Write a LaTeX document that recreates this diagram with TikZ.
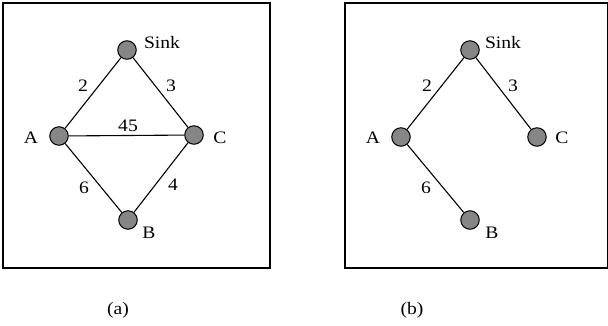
\documentclass[tikz,border=0pt]{standalone}
\usepackage{fontspec}
\setmainfont{Liberation Serif}
\begin{document}
\begin{tikzpicture}[x=1pt,y=-1pt,
  vtx/.style={circle,draw=black,fill=gray!95,line width=1pt,minimum size=18.5pt,inner sep=0pt},
  lbl/.style={inner sep=0pt,xscale=1.12,font=\fontsize{17.5}{20}\selectfont},
  edge/.style={line width=1.1pt},
  frame/.style={draw=black,line width=1.1pt}]
\useasboundingbox (0,0) rectangle (608,325);
% panel (a)
\draw[frame] (3,3) rectangle (270,268);
\node[vtx] (aS) at (127,50) {};
\node[vtx] (aA) at (59,136) {};
\node[vtx] (aC) at (194,135) {};
\node[vtx] (aB) at (128,220) {};
\draw[edge] (aA) -- (aS);
\draw[edge] (aS) -- (aC);
\draw[edge] (aA) -- (aC);
\draw[edge] (aA) -- (aB);
\draw[edge] (aB) -- (aC);
\node[lbl] (taS) at (162,43) {Sink};
\node[lbl] (taA) at (31,138) {A};
\node[lbl] (taC) at (220,138) {C};
\node[lbl] (taB) at (149,233) {B};
\node[lbl] (w1) at (83,86) {2};
\node[lbl] (w2) at (171,86) {3};
\node[lbl] (w3) at (128,126) {45};
\node[lbl] (w4) at (84,188) {6};
\node[lbl] (w5) at (173,185) {4};
\node[lbl] (capa) at (118,310) {(a)};
% panel (b)
\draw[frame] (345,3) rectangle (607.4,268);
\node[vtx] (bS) at (470,50) {};
\node[vtx] (bA) at (401,137) {};
\node[vtx] (bC) at (537,137) {};
\node[vtx] (bB) at (470,220) {};
\draw[edge] (bA) -- (bS);
\draw[edge] (bS) -- (bC);
\draw[edge] (bA) -- (bB);
\node[lbl] (tbS) at (503,43) {Sink};
\node[lbl] (tbA) at (373,138) {A};
\node[lbl] (tbC) at (562,138) {C};
\node[lbl] (tbB) at (492,233) {B};
\node[lbl] (v1) at (427,86) {2};
\node[lbl] (v2) at (513,86) {3};
\node[lbl] (v3) at (426,188) {6};
\node[lbl] (capb) at (412,310) {(b)};
\end{tikzpicture}
\end{document}
